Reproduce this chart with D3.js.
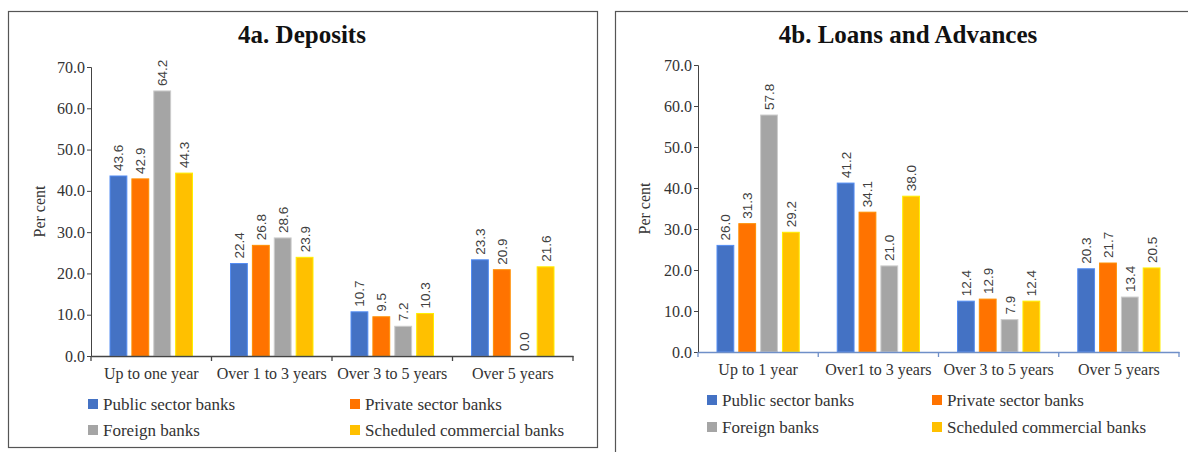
<!DOCTYPE html>
<html>
<head>
<meta charset="utf-8">
<script src="https://d3js.org/d3.v7.min.js"></script>
<style>
body { margin: 0; background: #fff; }
svg { display: block; }
.tick text { font-family: "Liberation Serif", serif; font-size: 16px; fill: #333; }
</style>
<title>Deposits and loans by maturity</title>
</head>
<body>
<script>
var series = ["Public sector banks", "Private sector banks", "Foreign banks", "Scheduled commercial banks"];
var colors = ["#4472C4", "#FF7300", "#A5A5A5", "#FFC000"];

var depCats = ["Up to one year", "Over 1 to 3 years", "Over 3 to 5 years", "Over 5 years"];
var depPublic = [43.6, 22.4, 10.7, 23.3];
var depPrivate = [42.9, 26.8, 9.5, 20.9];
var depForeign = [64.2, 28.6, 7.2, 0.0];
var depScb = [44.3, 23.9, 10.3, 21.6];

var loanCats = ["Up to 1 year", "Over1 to 3 years", "Over 3 to 5 years", "Over 5 years"];
var loanPublic = [26.0, 41.2, 12.4, 20.3];
var loanPrivate = [31.3, 34.1, 12.9, 21.7];
var loanForeign = [57.8, 21.0, 7.9, 13.4];
var loanScb = [29.2, 38.0, 12.4, 20.5];

var yTicks = [0, 10, 20, 30, 40, 50, 60, 70];

var svg = d3.select("body").append("svg")
    .attr("width", 1188)
    .attr("height", 452);

function panel(opt) {
  var g = svg.append("g");

  g.append("rect")
      .attr("x", opt.box[0] + 0.5).attr("y", opt.box[1] + 0.5)
      .attr("width", opt.box[2]).attr("height", opt.box[3])
      .attr("fill", "none").attr("stroke", "#555").attr("stroke-width", 1.2);

  g.append("text")
      .attr("x", opt.titleX).attr("y", 43)
      .attr("text-anchor", "middle")
      .attr("font-family", "Liberation Serif, serif")
      .attr("font-weight", "bold")
      .attr("font-size", 25)
      .attr("fill", "#111")
      .text(opt.title);

  var x = d3.scaleBand().domain(opt.cats).range([opt.x0, opt.x1]);
  var bw = x.bandwidth();
  var xs = d3.scaleBand().domain(d3.range(4)).range([19, bw - 19]).paddingInner(0.23);
  var y = d3.scaleLinear().domain([0, 70]).range([opt.y0, opt.yTop]);

  var rows = opt.cats.map(function(c, i) {
    return { cat: c, vals: opt.values.map(function(s) { return s[i]; }) };
  });

  var grp = g.selectAll(".grp").data(rows).enter().append("g")
      .attr("transform", function(d) { return "translate(" + x(d.cat) + ",0)"; });

  grp.selectAll("rect").data(function(d) { return d.vals; }).enter().append("rect")
      .attr("x", function(d, i) { return xs(i); })
      .attr("y", function(d) { return y(d); })
      .attr("width", xs.bandwidth())
      .attr("height", function(d) { return opt.y0 - y(d); })
      .attr("fill", function(d, i) { return colors[i]; })
      .attr("stroke", function(d, i) { return d > 0 ? d3.color(colors[i]).brighter(0.6) : "none"; })
      .attr("stroke-width", 1);

  grp.selectAll("text").data(function(d) { return d.vals; }).enter().append("text")
      .attr("transform", function(d, i) {
        return "translate(" + (xs(i) + xs.bandwidth() / 2 + 5) + "," + (y(d) - 5) + ") rotate(-90)";
      })
      .attr("font-family", "Liberation Sans, sans-serif")
      .attr("font-size", 13.5)
      .attr("fill", "#404040")
      .text(function(d) { return d.toFixed(1); });

  // y axis
  var ya = g.append("g")
      .attr("transform", "translate(" + opt.x0 + ",0)")
      .call(d3.axisLeft(y).tickValues(yTicks).tickFormat(d3.format(".1f")).tickSize(4).tickSizeOuter(4).tickPadding(2));
  ya.selectAll("path, line").attr("stroke", "#444");

  // x axis
  var xa = g.append("g")
      .attr("transform", "translate(0," + opt.y0 + ")")
      .call(d3.axisBottom(x).tickSize(0).tickPadding(opt.catPad));
  xa.select(".domain").attr("stroke", opt.xAxisColor).attr("stroke-width", 1.3);
  g.selectAll(".xt").data(d3.range(opt.cats.length + 1)).enter().append("line")
      .attr("x1", function(i) { return opt.x0 + i * bw; })
      .attr("x2", function(i) { return opt.x0 + i * bw; })
      .attr("y1", opt.y0).attr("y2", opt.y0 + 5)
      .attr("stroke", opt.xAxisColor).attr("stroke-width", 1.3);

  g.append("text")
      .attr("transform", "translate(" + opt.ylabX + "," + ((opt.y0 + opt.yTop) / 2) + ") rotate(-90)")
      .attr("text-anchor", "middle")
      .attr("font-family", "Liberation Serif, serif")
      .attr("font-size", 16)
      .attr("fill", "#333")
      .text("Per cent");

  // legend
  var leg = g.selectAll(".leg").data(series).enter().append("g")
      .attr("transform", function(d, i) {
        return "translate(" + opt.legX[i % 2] + "," + opt.legY[Math.floor(i / 2)] + ")";
      });
  leg.append("rect")
      .attr("x", 0).attr("y", -5).attr("width", 10).attr("height", 10)
      .attr("fill", function(d, i) { return colors[i]; });
  leg.append("text")
      .attr("x", 15).attr("y", 5.5)
      .attr("font-family", "Liberation Serif, serif")
      .attr("font-size", 17)
      .attr("fill", "#333")
      .text(function(d) { return d; });
}

panel({
  box: [8, 11, 589, 436],
  title: "4a. Deposits", titleX: 302,
  cats: depCats,
  values: [depPublic, depPrivate, depForeign, depScb],
  x0: 91, x1: 573, yTop: 67, y0: 356,
  catPad: 12, xAxisColor: "#444",
  ylabX: 45,
  legX: [88, 350], legY: [404, 430]
});

panel({
  box: [615, 11, 600, 450],
  title: "4b. Loans and Advances", titleX: 908,
  cats: loanCats,
  values: [loanPublic, loanPrivate, loanForeign, loanScb],
  x0: 698, x1: 1179, yTop: 65, y0: 352,
  catPad: 12, xAxisColor: "#6F8FC8",
  ylabX: 650,
  legX: [707, 932], legY: [400, 427]
});
</script>
</body>
</html>
